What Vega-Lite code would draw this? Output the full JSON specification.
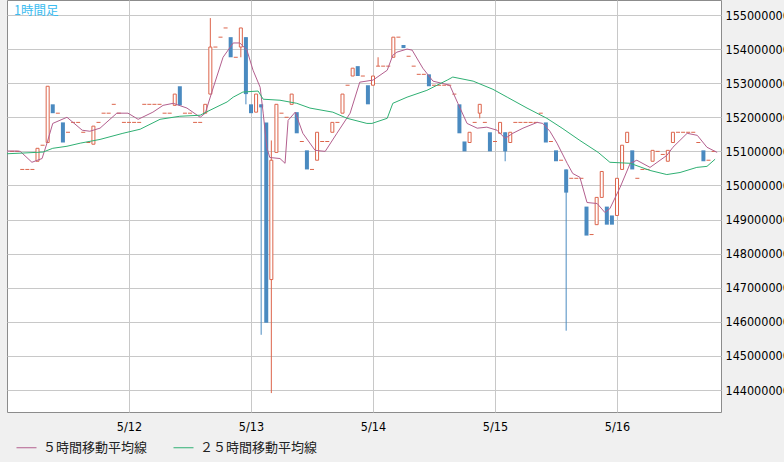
{
  "$schema": "https://vega.github.io/schema/vega-lite/v6.json",
  "width": 714,
  "height": 412,
  "autosize": {"type": "none"},
  "padding": {"left": 7, "top": 0, "right": 63, "bottom": 50},
  "background": "#f0f0f0",
  "title": {"text": "1時間足", "anchor": "start", "orient": "top", "frame": "group", "offset": -17, "dx": 7, "font": "Noto Sans CJK JP", "fontSize": 12.5, "fontWeight": "normal", "color": "#3cbcf0"},
  "datasets": {
    "candles": [
      {"t":1,"o":151000000,"c":151000000},{"t":2,"o":151000000,"c":151000000},{"t":3,"o":150470000,"c":150470000},{"t":4,"o":150470000,"c":150470000},{"t":5,"o":150470000,"c":150470000},
      {"t":6,"o":150710000,"c":151090000},{"t":7,"o":151180000,"c":151180000},{"t":8,"o":151260000,"c":152910000},{"t":9,"o":152380000,"c":152120000},{"t":10,"o":152120000,"c":152120000},
      {"t":11,"o":151850000,"c":151260000},{"t":12,"o":151560000,"c":151560000},{"t":13,"o":151850000,"c":151850000},{"t":14,"o":151850000,"c":151850000},{"t":15,"o":151560000,"c":151560000},
      {"t":16,"o":151260000,"c":151260000},{"t":17,"o":151210000,"c":151740000},{"t":18,"o":151850000,"c":151850000},{"t":19,"o":152120000,"c":152120000},{"t":20,"o":152120000,"c":152120000},
      {"t":21,"o":152380000,"c":152380000},{"t":22,"o":152120000,"c":152120000},{"t":23,"o":151850000,"c":151850000},{"t":24,"o":151850000,"c":151850000},{"t":25,"o":151850000,"c":151850000},
      {"t":26,"o":151850000,"c":151850000},{"t":27,"o":152380000,"c":152380000},{"t":28,"o":152380000,"c":152380000},{"t":29,"o":152380000,"c":152380000},{"t":30,"o":152380000,"c":152380000},
      {"t":31,"o":152120000,"c":152120000},{"t":32,"o":152120000,"c":152120000},{"t":33,"o":152350000,"c":152680000},{"t":34,"o":152910000,"c":152350000},{"t":35,"o":152120000,"c":152120000},
      {"t":36,"o":152120000,"c":152120000},{"t":37,"o":151850000,"c":151850000},{"t":38,"o":151850000,"c":151850000},{"t":39,"o":152120000,"c":152380000},
      {"t":40,"o":152680000,"c":154060000,"hi":154910000,"lo":152680000},
      {"t":41,"o":154060000,"c":154060000},{"t":42,"o":154350000,"c":154350000},{"t":43,"o":154620000,"c":154620000},{"t":44,"o":154350000,"c":153760000},{"t":45,"o":153760000,"c":153760000},
      {"t":46,"o":154060000,"c":154620000,"hi":154620000,"lo":153760000},
      {"t":47,"o":154350000,"c":152680000,"hi":154350000,"lo":152380000},
      {"t":48,"o":152380000,"c":152120000},{"t":49,"o":152150000,"c":152680000},
      {"t":50,"o":152380000,"c":152290000,"hi":152380000,"lo":145620000},
      {"t":51,"o":151850000,"c":145970000},
      {"t":52,"o":147240000,"c":150740000,"hi":151320000,"lo":143910000},
      {"t":53,"o":150970000,"c":152380000},{"t":54,"o":152120000,"c":152120000},{"t":55,"o":152000000,"c":152000000},{"t":56,"o":152380000,"c":152680000},{"t":57,"o":152150000,"c":151530000},
      {"t":58,"o":151290000,"c":151290000},{"t":59,"o":151030000,"c":150470000},{"t":60,"o":150470000,"c":150470000},{"t":61,"o":150740000,"c":151560000},{"t":62,"o":151290000,"c":151290000},
      {"t":63,"o":151290000,"c":151290000},{"t":64,"o":151560000,"c":151850000},{"t":65,"o":151850000,"c":151850000},{"t":66,"o":152120000,"c":152680000},{"t":67,"o":152940000,"c":152940000},
      {"t":68,"o":153210000,"c":153440000},{"t":69,"o":153500000,"c":153210000},{"t":70,"o":153210000,"c":153210000},{"t":71,"o":152940000,"c":152380000},{"t":72,"o":152940000,"c":153210000},
      {"t":73,"o":153500000,"c":153500000,"hi":153760000,"lo":153500000},
      {"t":74,"o":153500000,"c":153500000},{"t":75,"o":153500000,"c":153500000},{"t":76,"o":153760000,"c":154350000},{"t":77,"o":154350000,"c":154350000},{"t":78,"o":154120000,"c":154030000},
      {"t":79,"o":153790000,"c":153790000},{"t":80,"o":153500000,"c":153500000},{"t":81,"o":153260000,"c":153260000},{"t":82,"o":153260000,"c":153260000},{"t":83,"o":153260000,"c":152910000},
      {"t":84,"o":152940000,"c":152940000},{"t":85,"o":152940000,"c":152940000},{"t":86,"o":152940000,"c":152940000},{"t":87,"o":152940000,"c":152940000},{"t":88,"o":152680000,"c":152680000},
      {"t":89,"o":152380000,"c":151530000},{"t":90,"o":151290000,"c":151000000},{"t":91,"o":151260000,"c":151560000},{"t":92,"o":151850000,"c":151850000},
      {"t":93,"o":152120000,"c":152380000,"hi":152380000,"lo":151970000},
      {"t":94,"o":151850000,"c":151850000},{"t":95,"o":151560000,"c":151000000},{"t":96,"o":151290000,"c":151290000},{"t":97,"o":151530000,"c":151850000},
      {"t":98,"o":151560000,"c":151000000,"hi":151560000,"lo":150710000},
      {"t":99,"o":151260000,"c":151560000},{"t":100,"o":151850000,"c":151850000},{"t":101,"o":151850000,"c":151850000},{"t":102,"o":151850000,"c":151850000},{"t":103,"o":151850000,"c":151850000},
      {"t":104,"o":151850000,"c":151850000},{"t":105,"o":152120000,"c":152120000},{"t":106,"o":151850000,"c":151260000},{"t":107,"o":151290000,"c":151290000},{"t":108,"o":151030000,"c":150710000},
      {"t":109,"o":150740000,"c":150740000},
      {"t":110,"o":150470000,"c":149790000,"hi":150470000,"lo":145740000},
      {"t":111,"o":150210000,"c":150210000},{"t":112,"o":150210000,"c":150210000},{"t":113,"o":150210000,"c":150210000},{"t":114,"o":149380000,"c":148530000},{"t":115,"o":148560000,"c":148560000},
      {"t":116,"o":148850000,"c":149650000},{"t":117,"o":149650000,"c":150410000},{"t":118,"o":149380000,"c":148850000},{"t":119,"o":149120000,"c":148850000},{"t":120,"o":149120000,"c":150210000},
      {"t":121,"o":150470000,"c":151180000},{"t":122,"o":151260000,"c":151560000},{"t":123,"o":151030000,"c":150470000},{"t":124,"o":150210000,"c":150210000},{"t":125,"o":150470000,"c":150470000},
      {"t":126,"o":150470000,"c":150470000},{"t":127,"o":150710000,"c":151030000},{"t":128,"o":151000000,"c":151000000},{"t":129,"o":150910000,"c":150910000},{"t":130,"o":150710000,"c":151030000},
      {"t":131,"o":151260000,"c":151560000},{"t":132,"o":151560000,"c":151560000},{"t":133,"o":151560000,"c":151560000},{"t":134,"o":151560000,"c":151560000},{"t":135,"o":151560000,"c":151560000},
      {"t":136,"o":151260000,"c":151260000},{"t":137,"o":151030000,"c":150710000},{"t":138,"o":150740000,"c":150740000},{"t":139,"o":151000000,"c":151000000}
    ],
    "ma": [
      {"s":"５時間移動平均線","t":0,"v":151010000},{"s":"５時間移動平均線","t":2,"v":151010000},{"s":"５時間移動平均線","t":2.6,"v":151000000},{"s":"５時間移動平均線","t":4.9,"v":150680000},
      {"s":"５時間移動平均線","t":6.9,"v":150790000},{"s":"５時間移動平均線","t":7.9,"v":151260000},{"s":"５時間移動平均線","t":9.0,"v":151820000},{"s":"５時間移動平均線","t":11.8,"v":152000000},
      {"s":"５時間移動平均線","t":14.8,"v":151620000},{"s":"５時間移動平均線","t":16.3,"v":151590000},{"s":"５時間移動平均線","t":18.3,"v":151680000},{"s":"５時間移動平均線","t":21.6,"v":152120000},
      {"s":"５時間移動平均線","t":23.8,"v":152120000},{"s":"５時間移動平均線","t":25.8,"v":151940000},{"s":"５時間移動平均線","t":28.7,"v":152150000},{"s":"５時間移動平均線","t":30.7,"v":152350000},
      {"s":"５時間移動平均線","t":32.7,"v":152410000},{"s":"５時間移動平均線","t":35.4,"v":152270000},{"s":"５時間移動平均線","t":38.0,"v":152000000},{"s":"５時間移動平均線","t":39.0,"v":152120000},
      {"s":"５時間移動平均線","t":40.3,"v":152740000},{"s":"５時間移動平均線","t":42.5,"v":153760000},{"s":"５時間移動平均線","t":44.5,"v":154180000},{"s":"５時間移動平均線","t":45.8,"v":154180000},
      {"s":"５時間移動平均線","t":47.2,"v":153970000},{"s":"５時間移動平均線","t":48.4,"v":153380000},{"s":"５時間移動平均線","t":49.8,"v":152880000},{"s":"５時間移動平均線","t":50.4,"v":152120000},
      {"s":"５時間移動平均線","t":51.1,"v":151120000},{"s":"５時間移動平均線","t":51.7,"v":150820000},{"s":"５時間移動平均線","t":53.7,"v":150790000},{"s":"５時間移動平均線","t":54.7,"v":150650000},
      {"s":"５時間移動平均線","t":55.3,"v":151910000},{"s":"５時間移動平均線","t":56.7,"v":152150000},{"s":"５時間移動平均線","t":58.2,"v":151530000},{"s":"５時間移動平均線","t":60.6,"v":151030000},
      {"s":"５時間移動平均線","t":62.6,"v":151000000},{"s":"５時間移動平均線","t":64.9,"v":151530000},{"s":"５時間移動平均線","t":67.5,"v":152120000},{"s":"５時間移動平均線","t":69.4,"v":153030000},
      {"s":"５時間移動平均線","t":72.0,"v":153090000},{"s":"５時間移動平均線","t":74.8,"v":153380000},{"s":"５時間移動平均線","t":75.9,"v":153820000},{"s":"５時間移動平均線","t":76.7,"v":153910000},
      {"s":"５時間移動平均線","t":78.7,"v":154000000},{"s":"５時間移動平均線","t":79.7,"v":153970000},{"s":"５時間移動平均線","t":81.8,"v":153440000},{"s":"５時間移動平均線","t":83.8,"v":153060000},
      {"s":"５時間移動平均線","t":87.1,"v":152940000},{"s":"５時間移動平均線","t":88.7,"v":152410000},{"s":"５時間移動平均線","t":90.5,"v":151820000},{"s":"５時間移動平均線","t":92.5,"v":151680000},
      {"s":"５時間移動平均線","t":94.4,"v":151710000},{"s":"５時間移動平均線","t":96.4,"v":151620000},{"s":"５時間移動平均線","t":98.0,"v":151380000},{"s":"５時間移動平均線","t":99.5,"v":151530000},
      {"s":"５時間移動平均線","t":101.5,"v":151680000},{"s":"５時間移動平均線","t":104.3,"v":151850000},{"s":"５時間移動平均線","t":105.4,"v":151820000},{"s":"５時間移動平均線","t":106.8,"v":151590000},
      {"s":"５時間移動平均線","t":108.2,"v":151240000},{"s":"５時間移動平均線","t":110.2,"v":150650000},{"s":"５時間移動平均線","t":111.3,"v":150350000},{"s":"５時間移動平均線","t":112.7,"v":150240000},
      {"s":"５時間移動平均線","t":114.1,"v":149500000},{"s":"５時間移動平均線","t":116.1,"v":149470000},{"s":"５時間移動平均線","t":117.6,"v":149210000},{"s":"５時間移動平均線","t":118.6,"v":149320000},
      {"s":"５時間移動平均線","t":120.6,"v":149940000},{"s":"５時間移動平均線","t":122.6,"v":150650000},{"s":"５時間移動平均線","t":123.9,"v":150740000},{"s":"５時間移動平均線","t":126.5,"v":150530000},
      {"s":"５時間移動平均線","t":129.8,"v":150880000},{"s":"５時間移動平均線","t":131.0,"v":151120000},{"s":"５時間移動平均線","t":133.8,"v":151530000},{"s":"５時間移動平均線","t":135.8,"v":151470000},
      {"s":"５時間移動平均線","t":137.7,"v":151120000},{"s":"５時間移動平均線","t":139.7,"v":150970000},
      {"s":"２５時間移動平均線","t":0,"v":150930000},{"s":"２５時間移動平均線","t":3,"v":150950000},{"s":"２５時間移動平均線","t":7.1,"v":150980000},{"s":"２５時間移動平均線","t":9,"v":151090000},
      {"s":"２５時間移動平均線","t":11.8,"v":151150000},{"s":"２５時間移動平均線","t":14.4,"v":151240000},{"s":"２５時間移動平均線","t":18.3,"v":151350000},{"s":"２５時間移動平均線","t":22.8,"v":151530000},
      {"s":"２５時間移動平均線","t":26.2,"v":151650000},{"s":"２５時間移動平均線","t":30.1,"v":151940000},{"s":"２５時間移動平均線","t":34.0,"v":152030000},{"s":"２５時間移動平均線","t":38.0,"v":152060000},
      {"s":"２５時間移動平均線","t":39.3,"v":152160000},{"s":"２５時間移動平均線","t":41.9,"v":152350000},{"s":"２５時間移動平均線","t":43.3,"v":152450000},{"s":"２５時間移動平均線","t":44.5,"v":152590000},
      {"s":"２５時間移動平均線","t":46.4,"v":152740000},{"s":"２５時間移動平均線","t":49.4,"v":152770000},{"s":"２５時間移動平均線","t":50.4,"v":152530000},{"s":"２５時間移動平均線","t":53.7,"v":152500000},
      {"s":"２５時間移動平均線","t":57.0,"v":152410000},{"s":"２５時間移動平均線","t":59.6,"v":152270000},{"s":"２５時間移動平均線","t":64.1,"v":152150000},{"s":"２５時間移動平均線","t":66.9,"v":151970000},
      {"s":"２５時間移動平均線","t":70.8,"v":151820000},{"s":"２５時間移動平均線","t":71.8,"v":151820000},{"s":"２５時間移動平均線","t":74.8,"v":151970000},{"s":"２５時間移動平均線","t":75.9,"v":152410000},
      {"s":"２５時間移動平均線","t":78.7,"v":152590000},{"s":"２５時間移動平均線","t":82.6,"v":152790000},{"s":"２５時間移動平均線","t":86.6,"v":153090000},{"s":"２５時間移動平均線","t":87.7,"v":153180000},
      {"s":"２５時間移動平均線","t":91.7,"v":153060000},{"s":"２５時間移動平均線","t":95.6,"v":152820000},{"s":"２５時間移動平均線","t":98.4,"v":152590000},{"s":"２５時間移動平均線","t":102.3,"v":152270000},
      {"s":"２５時間移動平均線","t":106.2,"v":151970000},{"s":"２５時間移動平均線","t":109.2,"v":151680000},{"s":"２５時間移動平均線","t":112.7,"v":151320000},{"s":"２５時間移動平均線","t":116.3,"v":150970000},
      {"s":"２５時間移動平均線","t":118.6,"v":150680000},{"s":"２５時間移動平均線","t":122.6,"v":150650000},{"s":"２５時間移動平均線","t":126.5,"v":150440000},{"s":"２５時間移動平均線","t":129.8,"v":150320000},
      {"s":"２５時間移動平均線","t":132.4,"v":150380000},{"s":"２５時間移動平均線","t":135.7,"v":150530000},{"s":"２５時間移動平均線","t":137.7,"v":150560000},{"s":"２５時間移動平均線","t":139.3,"v":150770000}
    ]
  },
  "layer": [
    {
      "data": {"name": "candles"},
      "transform": [{"filter": "isValid(datum.hi)"}],
      "mark": {"type": "rule", "strokeWidth": 1},
      "encoding": {
        "x": {"field": "t", "type": "quantitative", "title": null,
              "scale": {"domain": [0, 140.46], "nice": false, "zero": false, "padding": 0},
              "axis": {"values": [24, 48, 72, 96, 120], "labelExpr": "'5/' + (11 + datum.value / 24)", "grid": true, "labelPadding": 8, "labelBaseline": "top", "labelOverlap": false}},
        "y": {"field": "hi", "type": "quantitative", "title": null,
              "scale": {"domain": [143355000, 155440000], "nice": false, "zero": false, "padding": 0},
              "axis": {"orient": "right", "values": [144000000,145000000,146000000,147000000,148000000,149000000,150000000,151000000,152000000,153000000,154000000,155000000], "format": "d", "grid": true, "labelPadding": 4, "labelOverlap": false}},
        "y2": {"field": "lo"},
        "color": {"condition": {"test": "datum.c >= datum.o", "value": "#dc644b"}, "value": "#4a8ac0"}
      }
    },
    {
      "data": {"name": "candles"},
      "transform": [{"filter": "datum.c > datum.o"}],
      "mark": {"type": "bar", "orient": "vertical", "size": 3, "fill": "white", "stroke": "#dc644b", "strokeWidth": 1},
      "encoding": {
        "x": {"field": "t", "type": "quantitative", "title": null,
              "axis": {"values": [24, 48, 72, 96, 120], "labelExpr": "'5/' + (11 + datum.value / 24)", "grid": true, "labelPadding": 8, "labelBaseline": "top", "labelOverlap": false}},
        "y": {"field": "o", "type": "quantitative", "title": null,
              "axis": {"orient": "right", "values": [144000000,145000000,146000000,147000000,148000000,149000000,150000000,151000000,152000000,153000000,154000000,155000000], "format": "d", "grid": true, "labelPadding": 4, "labelOverlap": false}},
        "y2": {"field": "c"}
      }
    },
    {
      "data": {"name": "candles"},
      "transform": [{"filter": "datum.c < datum.o"}],
      "mark": {"type": "bar", "orient": "vertical", "size": 4, "fill": "#4a8ac0", "strokeWidth": 0},
      "encoding": {
        "x": {"field": "t", "type": "quantitative", "title": null,
              "axis": {"values": [24, 48, 72, 96, 120], "labelExpr": "'5/' + (11 + datum.value / 24)", "grid": true, "labelPadding": 8, "labelBaseline": "top", "labelOverlap": false}},
        "y": {"field": "o", "type": "quantitative", "title": null,
              "axis": {"orient": "right", "values": [144000000,145000000,146000000,147000000,148000000,149000000,150000000,151000000,152000000,153000000,154000000,155000000], "format": "d", "grid": true, "labelPadding": 4, "labelOverlap": false}},
        "y2": {"field": "c"}
      }
    },
    {
      "data": {"name": "candles"},
      "transform": [{"filter": "datum.c == datum.o"}],
      "mark": {"type": "tick", "orient": "horizontal", "size": 4, "thickness": 1, "color": "#dc644b", "opacity": 1},
      "encoding": {
        "x": {"field": "t", "type": "quantitative", "title": null,
              "axis": {"values": [24, 48, 72, 96, 120], "labelExpr": "'5/' + (11 + datum.value / 24)", "grid": true, "labelPadding": 8, "labelBaseline": "top", "labelOverlap": false}},
        "y": {"field": "c", "type": "quantitative", "title": null,
              "axis": {"orient": "right", "values": [144000000,145000000,146000000,147000000,148000000,149000000,150000000,151000000,152000000,153000000,154000000,155000000], "format": "d", "grid": true, "labelPadding": 4, "labelOverlap": false}}
      }
    },
    {
      "data": {"name": "ma"},
      "mark": {"type": "line", "strokeWidth": 1},
      "encoding": {
        "x": {"field": "t", "type": "quantitative", "title": null,
              "axis": {"values": [24, 48, 72, 96, 120], "labelExpr": "'5/' + (11 + datum.value / 24)", "grid": true, "labelPadding": 8, "labelBaseline": "top", "labelOverlap": false}},
        "y": {"field": "v", "type": "quantitative", "title": null,
              "axis": {"orient": "right", "values": [144000000,145000000,146000000,147000000,148000000,149000000,150000000,151000000,152000000,153000000,154000000,155000000], "format": "d", "grid": true, "labelPadding": 4, "labelOverlap": false}},
        "color": {"field": "s", "type": "nominal",
                  "scale": {"domain": ["５時間移動平均線", "２５時間移動平均線"], "range": ["#b35f8e", "#2fb073"]},
                  "legend": {"orient": "none", "legendX": 9, "legendY": 437, "direction": "horizontal", "title": null,
                             "symbolType": "stroke", "symbolSize": 400, "symbolStrokeWidth": 1,
                             "labelFont": "Noto Sans CJK JP", "labelFontSize": 13, "labelColor": "#222222",
                             "labelOffset": 6, "columnPadding": 23, "padding": 0, "labelLimit": 300}}
      }
    }
  ],
  "config": {
    "view": {"fill": "white", "stroke": "#8c8c8c", "strokeWidth": 1},
    "axis": {"gridColor": "#c8c8c8", "gridWidth": 1, "domain": false, "ticks": false,
             "labelFont": "DejaVu Sans Condensed, Liberation Sans, sans-serif", "labelFontSize": 12.5, "labelColor": "#000000"}
  }
}
